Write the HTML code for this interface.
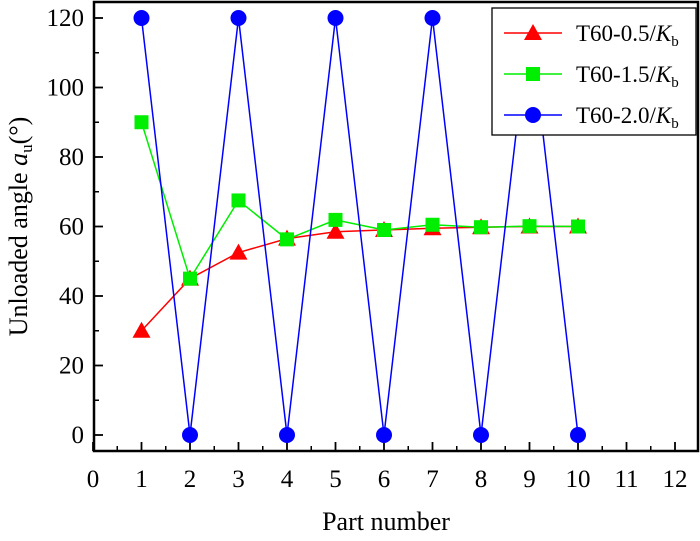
<!DOCTYPE html>
<html><head><meta charset="utf-8"><style>
html,body{margin:0;padding:0;background:#fff;}
svg{display:block;font-family:"Liberation Serif",serif;}
</style></head><body>
<svg id="chart" width="700" height="541">
<g id="axes"></g><g id="series"></g><g id="legend"></g>
</svg>
<script>
const categories=[1,2,3,4,5,6,7,8,9,10];
const seriesA=[30,45,52.5,56.5,58.5,59,59.5,59.8,60,60];
const seriesB=[90,45,67.5,56.3,61.9,59,60.5,59.8,60.1,60];
const seriesC=[120,0,120,0,120,0,120,0,120,0];
const xTicks=[0,1,2,3,4,5,6,7,8,9,10,11,12];
const yTicks=[0,20,40,60,80,100,120];
const names=["T60-0.5/","T60-1.5/","T60-2.0/"];
const NS="http://www.w3.org/2000/svg";
const L=94,R=698,T=2,B=451;
const x=v=>93+v*48.5;
const y=v=>435-v*3.475;
function el(tag,attrs,parent){const e=document.createElementNS(NS,tag);for(const k in attrs)e.setAttribute(k,attrs[k]);parent.appendChild(e);return e;}
const axes=document.getElementById('axes');
const frame=el('rect',{x:L,y:T,width:R-L,height:B-T,fill:'none',stroke:'#000','stroke-width':2.5},axes);


xTicks.forEach(v=>{
 el('line',{x1:x(v),x2:x(v),y1:B,y2:B-9,stroke:'#000','stroke-width':1.8},axes);
 if(v<12) el('line',{x1:x(v+0.5),x2:x(v+0.5),y1:B,y2:B-5,stroke:'#000','stroke-width':1.5},axes);
 const t=el('text',{x:x(v),y:B+36,'font-size':25,'text-anchor':'middle'},axes);t.textContent=v;
 
 
});
yTicks.forEach(v=>{
 el('line',{x1:L,x2:L+9,y1:y(v),y2:y(v),stroke:'#000','stroke-width':1.8},axes);
 if(v<120) el('line',{x1:L,x2:L+5,y1:y(v+10),y2:y(v+10),stroke:'#000','stroke-width':1.5},axes);
 const t=el('text',{x:L-10,y:y(v)+8,'font-size':25,'text-anchor':'end'},axes);t.textContent=v;
 
 
});
const xt=el('text',{x:(L+R)/2-10,y:530,'font-size':26,'text-anchor':'middle'},axes);xt.textContent='Part number';


const yt=el('text',{transform:'translate(27,'+((T+B)/2)+') rotate(-90)','font-size':26,'text-anchor':'middle'},axes);
yt.innerHTML='Unloaded angle <tspan font-style="italic">a</tspan><tspan font-size="17" dy="5">u</tspan><tspan dy="-5">(°)</tspan>';


const sg=document.getElementById('series');
function marker(kind,cx,cy,col,p){
 if(kind==='tri') return el('polygon',{points:`${cx},${cy-9} ${cx-9},${cy+7} ${cx+9},${cy+7}`,fill:col},p);
 if(kind==='sq') return el('rect',{x:cx-7,y:cy-7,width:14,height:14,fill:col},p);
 return el('circle',{cx:cx,cy:cy,r:8,fill:col},p);
}
const defs=[[seriesA,'#ff0000','tri','series-t60-0-5'],[seriesB,'#00ee00','sq','series-t60-1-5'],[seriesC,'#0000ff','circ','series-t60-2-0']];
defs.forEach(([data,col,kind,name])=>{
 const g=el('g',{},sg);
 
 
 el('polyline',{points:data.map((v,i)=>x(categories[i])+','+y(v)).join(' '),fill:'none',stroke:col,'stroke-width':1.5},g);
 data.forEach((v,i)=>{const m=marker(kind,x(categories[i]),y(v),col,g);
  
  });
});
const lg=document.getElementById('legend');
const box=el('rect',{x:492,y:8,width:204,height:127,fill:'#fff',stroke:'#000','stroke-width':1.3},lg);


defs.forEach(([data,col,kind],i)=>{
 const cy=33+i*41;
 const g=el('g',{},lg);
 
 
 el('line',{x1:504,x2:562,y1:cy,y2:cy,stroke:col,'stroke-width':1.5},g);
 marker(kind,533,cy,col,g);
 const t=el('text',{x:576,y:cy+8,'font-size':23},g);
 t.innerHTML=names[i]+'<tspan font-style="italic">K</tspan><tspan font-size="15" dy="5">b</tspan>';
});
</script>
</body></html>
